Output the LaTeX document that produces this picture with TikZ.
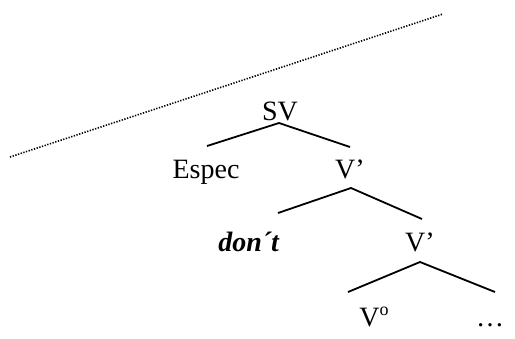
\documentclass[tikz,border=0pt]{standalone}
\usepackage{fontspec}
\setmainfont{Liberation Serif}
\usepackage{tikz}
\usetikzlibrary{positioning}
\tikzset{
  svlabel/.style={font=\fontsize{28}{30}\selectfont, inner sep=0pt, anchor=base},
  svbranch/.style={draw=black, line width=1.8pt},
  svtrace/.style={draw=black, line width=1.6pt, dash pattern=on 1.3pt off 1.5pt},
}

\begin{document}
\begin{tikzpicture}[x=1pt, y=-1pt]
  \useasboundingbox (0,0) rectangle (515,338);
  % the dotted boundary
  \coordinate (trace-a) at (10,157);
  \coordinate (trace-b) at (443,14);
  \draw[svtrace] (trace-a) -- (trace-b);
  % labels
  \node[svlabel] (sv)    at (280,120) {SV};
  \node[svlabel] (espec) at (206,178) {Espec};
  \node[svlabel] (vbar)  at (350,178) {V’};
  \node[svlabel] (dont)  at (249,251) {\textbf{\textit{don´t}}};
  \node[svlabel] (vbarb) at (420,251) {V’};
  \node[svlabel] (vzero) at (374,326) {V\raisebox{0.85ex}{\fontsize{18}{18}\selectfont o}};
  \node[svlabel] (rest)  at (490,326) {\dots};
  % branch points
  \coordinate (sv-top) at (279,123);
  \coordinate (sv-l)   at (207,146);
  \coordinate (sv-r)   at (350,147);
  \coordinate (vbar-top) at (351,188);
  \coordinate (vbar-l)   at (278,213);
  \coordinate (vbar-r)   at (422,219);
  \coordinate (vbarb-top) at (420,262);
  \coordinate (vbarb-l)   at (348,292);
  \coordinate (vbarb-r)   at (495,292);
  \foreach \t in {sv, vbar, vbarb}
    { \draw[svbranch] (\t-l) -- (\t-top) -- (\t-r); }
\end{tikzpicture}
\end{document}
